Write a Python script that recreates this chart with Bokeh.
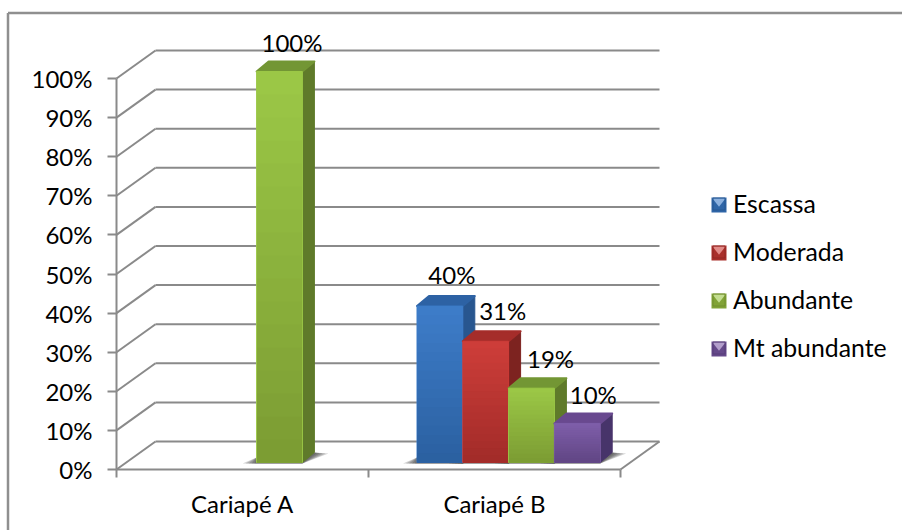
from bokeh.core.properties import value
from bokeh.embed import file_html
from bokeh.models import ColumnDataSource, FixedTicker, Legend, LegendItem, LinearAxis, Range1d
from bokeh.plotting import figure
from bokeh.resources import INLINE

categories = ["Cariapé A", "Cariapé B"]
series = ["Escassa", "Moderada", "Abundante", "Mt abundante"]
values = {
    "Escassa": [0, 40],
    "Moderada": [0, 31],
    "Abundante": [100, 19],
    "Mt abundante": [0, 10],
}
percent_ticks = [0, 10, 20, 30, 40, 50, 60, 70, 80, 90, 100]

# face top, face bottom, side wall, lid
palette = {
    "Escassa": ("#3d7cc8", "#2a5f9f", "#28568f", "#2d62a4"),
    "Moderada": ("#cd3d39", "#a02b28", "#7d2320", "#a52d2a"),
    "Abundante": ("#9bc746", "#7a9a32", "#5f7a2a", "#739634"),
    "Mt abundante": ("#7e5ea9", "#5f4482", "#47346a", "#69498f"),
}
# Horizontal and vertical label shifts per bar, in screen pixels.
label_shift = {
    "Escassa": [(0, 0), (12, -32)],
    "Moderada": [(0, 0), (17, -31)],
    "Abundante": [(12.5, -29), (19, -30)],
    "Mt abundante": [(0, 0), (16, -29)],
}

W, H = 902, 530
# Scale of the drawing: pixels per category and per percentage point.
PX_CAT = 252.0
PX_PCT = 3.91
FRONT_X = 116.0
FRONT_Y = 469.0
FONT = "Lato"
FONT_SIZE = "24px"


def mix(a, b, t):
    ca = [int(a[i:i + 2], 16) for i in (1, 3, 5)]
    cb = [int(b[i:i + 2], 16) for i in (1, 3, 5)]
    return "#%02x%02x%02x" % tuple(round(p + (q - p) * t) for p, q in zip(ca, cb))


def dx(px):
    return px / PX_CAT


def dy(px):
    return px / PX_PCT


def sx(px):
    return (px - FRONT_X) / PX_CAT


def sy(px):
    return (FRONT_Y - px) / PX_PCT


p = figure(
    width=W, height=H, output_backend="svg", toolbar_location=None,
    x_range=Range1d(sx(0), sx(W)),
    y_range=Range1d(sy(H), sy(0)),
    x_axis_location=None, y_axis_location=None,
    min_border=0, min_border_left=0, min_border_right=0, min_border_top=0, min_border_bottom=0,
    outline_line_color=None,
)
p.grid.visible = False
p.background_fill_color = "#ffffff"
p.border_fill_color = "#ffffff"

GRID = "#8a8a8a"
DEPTH_X, DEPTH_Y = dx(39), dy(28)
N_CAT = len(categories)

# Outer frame of the chart: only its top and left edges fall inside the page.
p.segment(x0=[sx(7.5), sx(7.5)], y0=[sy(12.5), sy(12.5)],
          x1=[sx(W), sx(7.5)], y1=[sy(12.5), sy(H)],
          line_color="#8f8f8f", line_width=2.5)

# Back wall and side wall rules, one per percentage tick.
p.segment(x0=[DEPTH_X] * len(percent_ticks),
          y0=[t + DEPTH_Y for t in percent_ticks],
          x1=[N_CAT + DEPTH_X] * len(percent_ticks),
          y1=[t + DEPTH_Y for t in percent_ticks],
          line_color=GRID, line_width=2)
p.segment(x0=[0] * len(percent_ticks), y0=percent_ticks,
          x1=[DEPTH_X] * len(percent_ticks), y1=[t + DEPTH_Y for t in percent_ticks],
          line_color=GRID, line_width=2)
# Right edge of the floor
p.segment(x0=[N_CAT], y0=[0], x1=[N_CAT + DEPTH_X], y1=[DEPTH_Y], line_color=GRID, line_width=2)

# Real axes pinned to the floor's front edge and the side wall's front edge.
y_axis = LinearAxis(fixed_location=0, ticker=FixedTicker(ticks=percent_ticks),
                    bounds=(0, 100),
                    major_label_overrides={t: f"{t}%" for t in percent_ticks},
                    axis_line_color=GRID, axis_line_width=2,
                    major_tick_line_color=GRID, major_tick_line_width=2,
                    major_tick_in=0, major_tick_out=9, minor_tick_line_color=None,
                    major_label_text_font=FONT, major_label_text_font_size=FONT_SIZE,
                    major_label_text_color="#000000", major_label_standoff=15)
p.add_layout(y_axis, "left")

x_axis = LinearAxis(fixed_location=0,
                    ticker=FixedTicker(ticks=[i + 0.5 for i in range(N_CAT)],
                                       minor_ticks=list(range(N_CAT + 1))),
                    bounds=(0, N_CAT),
                    major_label_overrides={i + 0.5: c for i, c in enumerate(categories)},
                    axis_line_color=GRID, axis_line_width=2,
                    major_tick_line_color=None, major_tick_in=0, major_tick_out=0,
                    minor_tick_line_color=GRID, minor_tick_line_width=2,
                    minor_tick_in=0, minor_tick_out=8,
                    major_label_text_font=FONT, major_label_text_font_size=FONT_SIZE,
                    major_label_text_color="#000000", major_label_standoff=11)
p.add_layout(x_axis, "below")

# Bar geometry inside a category.
BAR_W = dx(45.8)
GROUP_START = dx(48.5)
BASE_Y = dy(7)
SIDE_X, SIDE_Y = dx(12), dy(10)

# Soft floor shadows go down first, so that no bar is darkened by a neighbour's.
for s_idx, name in enumerate(series):
    for c_idx, v in enumerate(values[name]):
        if not v:
            continue
        x0 = c_idx + GROUP_START + s_idx * BAR_W
        x1 = x0 + BAR_W
        low = BASE_Y - dy(1)
        for grow in (14, 11, 8, 5, 2):
            g = dx(grow)
            p.patch(x=[x0 - g, x1, x1 + SIDE_X + g, x1 + SIDE_X, x0],
                    y=[low, low, BASE_Y + SIDE_Y * 0.9, BASE_Y + SIDE_Y, BASE_Y + dy(5)],
                    fill_color="#333333", fill_alpha=0.22, line_color=None)

KEY_X, KEY_Y, KEY_SIZE, ROW = 711, 197, 15, 48

legend_items = []
for s_idx, name in enumerate(series):
    top_c, bot_c, side_c, lid_c = palette[name]
    for c_idx, v in enumerate(values[name]):
        if not v:
            continue
        x0 = c_idx + GROUP_START + s_idx * BAR_W
        x1 = x0 + BAR_W
        base = BASE_Y
        top = v + BASE_Y

        # Side wall and lid.
        p.patch(x=[x1, x1 + SIDE_X, x1 + SIDE_X, x1],
                y=[base, base + SIDE_Y, top + SIDE_Y, top],
                fill_color=side_c, line_color=side_c, line_width=1, line_join="round")
        p.patch(x=[x0, x0 + SIDE_X, x1 + SIDE_X, x1],
                y=[top, top + SIDE_Y, top + SIDE_Y, top],
                fill_color=lid_c, line_color=lid_c, line_width=2, line_join="round")

        # Face: nested quads running from the top colour down to the bottom colour.
        steps = 18
        p.quad(left=x0, right=x1, bottom=base, top=top, fill_color=top_c,
               line_color=top_c, line_width=1, line_join="round")
        for k in range(1, steps):
            t = k / (steps - 1)
            p.quad(left=x0 + dx(0.5), right=x1 - dx(0.5), bottom=base,
                   top=base + v * (1 - t) + dy(0.01), fill_color=mix(top_c, bot_c, t),
                   line_color=None)

    # Legend key: dark square, pale chevron from its top corners, and a thin
    # outline supplied by the legend entry itself.
    row_y = KEY_Y + s_idx * ROW
    p.quad(left=[sx(KEY_X)], right=[sx(KEY_X + KEY_SIZE)],
           bottom=[sy(row_y + KEY_SIZE)], top=[sy(row_y)],
           fill_color=mix(bot_c, top_c, 0.2), line_color=None)
    p.patch(x=[sx(KEY_X + 1), sx(KEY_X + KEY_SIZE - 1), sx(KEY_X + KEY_SIZE / 2)],
            y=[sy(row_y + 1), sy(row_y + 1), sy(row_y + KEY_SIZE * 0.62)],
            fill_color=mix(top_c, "#ffffff", 0.4), line_color=None)
    outline = p.quad(left=[sx(-50)], right=[sx(-40)], bottom=[sy(H + 50)], top=[sy(H + 40)],
                     fill_alpha=0, line_color=mix(bot_c, "#000000", 0.1), line_alpha=0.8)
    legend_items.append(LegendItem(label=name, renderers=[outline]))

# Value labels above each bar, drawn from the same numbers as the bars.
for s_idx, name in enumerate(series):
    for c_idx, v in enumerate(values[name]):
        if not v:
            continue
        ox, oy = label_shift[name][c_idx]
        src = ColumnDataSource(dict(x=[c_idx + GROUP_START + s_idx * BAR_W + BAR_W / 2],
                                    y=[v + BASE_Y], t=[f"{v}%"]))
        p.text(x="x", y="y", text="t", source=src, x_offset=ox, y_offset=oy,
               text_align="center", text_baseline="middle", text_color="#000000",
               text_font=value(FONT), text_font_size=FONT_SIZE)

legend = Legend(items=legend_items, location=(KEY_X, H - 362), orientation="vertical",
                background_fill_alpha=0, border_line_color=None,
                glyph_width=KEY_SIZE, glyph_height=KEY_SIZE, label_standoff=7,
                label_text_font=FONT, label_text_font_size="24.8px",
                label_text_color="#000000", label_height=24, spacing=19,
                padding=0, margin=0)
p.add_layout(legend, "center")

open("out.html", "w").write(file_html(p, INLINE))
